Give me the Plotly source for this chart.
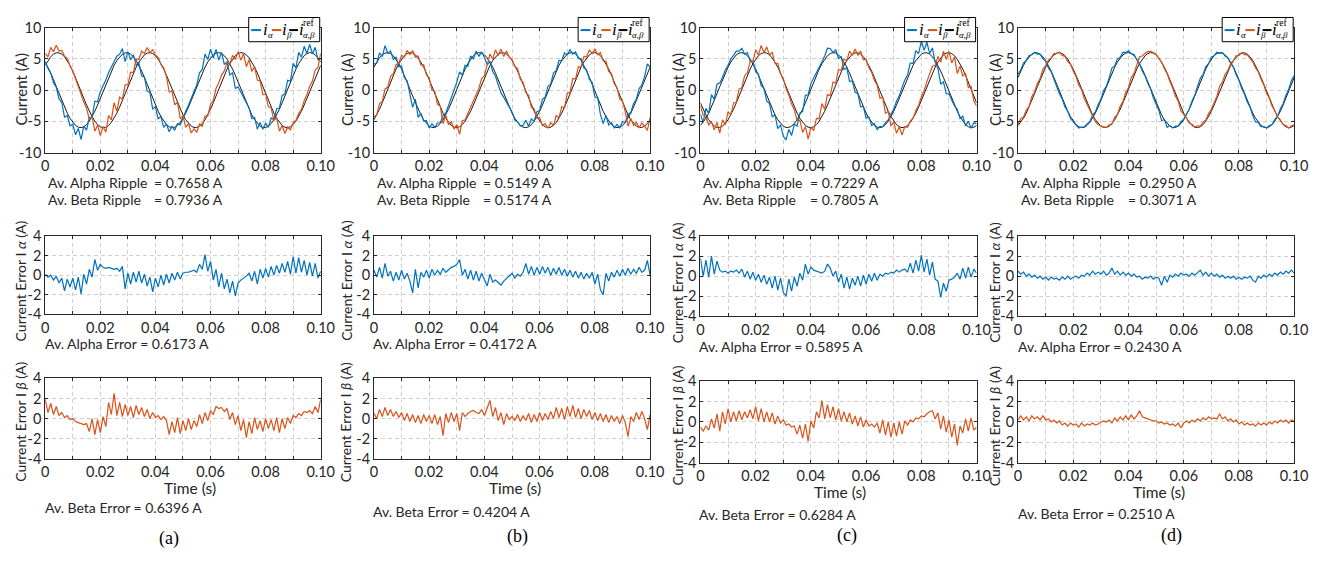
import plotly.graph_objects as go

W, H = 1329, 561          # target picture size
PAGE_MARGIN = 8           # default body margin of the page written by plotly
FW, FH = W - 2 * PAGE_MARGIN, H - 2 * PAGE_MARGIN

# ---------------- data ----------------
time_ms = list(range(101))               # sample instants, 1 ms apart
time_s = [m / 1000 for m in time_ms]

x_tick_vals = [0, 0.02, 0.04, 0.06, 0.08, 0.10]
x_tick_text = ["0", "0.02", "0.04", "0.06", "0.08", "0.10"]
x_minor_vals = [0.01, 0.03, 0.05, 0.07, 0.09]
cur_tick_vals = [-10, -5, 0, 5, 10]
cur_tick_text = ["-10", "-5", "0", "5", "10"]
err_tick_vals = [-4, -2, 0, 2, 4]
err_tick_text = ["-4", "-2", "0", "2", "4"]

panel_labels = ["(a)", "(b)", "(c)", "(d)"]
ripple_alpha = ["0.7658", "0.5149", "0.7229", "0.2950"]
ripple_beta = ["0.7936", "0.5174", "0.7805", "0.3071"]
error_alpha = ["0.6173", "0.4172", "0.5895", "0.2430"]
error_beta = ["0.6396", "0.4204", "0.6284", "0.2510"]

ref_alpha_a = [4.50, 3.68, 2.72, 1.67, 0.56, -0.56, -1.67, -2.72, -3.68, -4.50,
               -5.16, -5.65, -5.93, -6.00, -5.86, -5.51, -4.96, -4.24, -3.37, -2.38,
               -1.31, -0.19, 0.94, 2.03, 3.05, 3.97, 4.74, 5.35, 5.76, 5.97,
               5.97, 5.76, 5.35, 4.74, 3.97, 3.05, 2.03, 0.94, -0.19, -1.31,
               -2.38, -3.37, -4.24, -4.96, -5.51, -5.86, -6.00, -5.93, -5.65, -5.16,
               -4.50, -3.68, -2.72, -1.67, -0.56, 0.56, 1.67, 2.72, 3.68, 4.50,
               5.16, 5.65, 5.93, 6.00, 5.86, 5.51, 4.96, 4.24, 3.37, 2.38,
               1.31, 0.19, -0.94, -2.03, -3.05, -3.97, -4.74, -5.35, -5.76, -5.97,
               -5.97, -5.76, -5.35, -4.74, -3.97, -3.05, -2.03, -0.94, 0.19, 1.31,
               2.38, 3.37, 4.24, 4.96, 5.51, 5.86, 6.00, 5.93, 5.65, 5.16,
               4.50]
ref_beta_a = [3.97, 4.74, 5.35, 5.76, 5.97, 5.97, 5.76, 5.35, 4.74, 3.97,
              3.05, 2.03, 0.94, -0.19, -1.31, -2.38, -3.37, -4.24, -4.96, -5.51,
              -5.86, -6.00, -5.93, -5.65, -5.16, -4.50, -3.68, -2.72, -1.67, -0.56,
              0.56, 1.67, 2.72, 3.68, 4.50, 5.16, 5.65, 5.93, 6.00, 5.86,
              5.51, 4.96, 4.24, 3.37, 2.38, 1.31, 0.19, -0.94, -2.03, -3.05,
              -3.97, -4.74, -5.35, -5.76, -5.97, -5.97, -5.76, -5.35, -4.74, -3.97,
              -3.05, -2.03, -0.94, 0.19, 1.31, 2.38, 3.37, 4.24, 4.96, 5.51,
              5.86, 6.00, 5.93, 5.65, 5.16, 4.50, 3.68, 2.72, 1.67, 0.56,
              -0.56, -1.67, -2.72, -3.68, -4.50, -5.16, -5.65, -5.93, -6.00, -5.86,
              -5.51, -4.96, -4.24, -3.37, -2.38, -1.31, -0.19, 0.94, 2.03, 3.05,
              3.97]
ref_alpha_b = [3.68, 4.50, 5.16, 5.65, 5.93, 6.00, 5.86, 5.51, 4.96, 4.24,
               3.37, 2.38, 1.31, 0.19, -0.94, -2.03, -3.05, -3.97, -4.74, -5.35,
               -5.76, -5.97, -5.97, -5.76, -5.35, -4.74, -3.97, -3.05, -2.03, -0.94,
               0.19, 1.31, 2.38, 3.37, 4.24, 4.96, 5.51, 5.86, 6.00, 5.93,
               5.65, 5.16, 4.50, 3.68, 2.72, 1.67, 0.56, -0.56, -1.67, -2.72,
               -3.68, -4.50, -5.16, -5.65, -5.93, -6.00, -5.86, -5.51, -4.96, -4.24,
               -3.37, -2.38, -1.31, -0.19, 0.94, 2.03, 3.05, 3.97, 4.74, 5.35,
               5.76, 5.97, 5.97, 5.76, 5.35, 4.74, 3.97, 3.05, 2.03, 0.94,
               -0.19, -1.31, -2.38, -3.37, -4.24, -4.96, -5.51, -5.86, -6.00, -5.93,
               -5.65, -5.16, -4.50, -3.68, -2.72, -1.67, -0.56, 0.56, 1.67, 2.72,
               3.68]
ref_beta_b = [-4.74, -3.97, -3.05, -2.03, -0.94, 0.19, 1.31, 2.38, 3.37, 4.24,
              4.96, 5.51, 5.86, 6.00, 5.93, 5.65, 5.16, 4.50, 3.68, 2.72,
              1.67, 0.56, -0.56, -1.67, -2.72, -3.68, -4.50, -5.16, -5.65, -5.93,
              -6.00, -5.86, -5.51, -4.96, -4.24, -3.37, -2.38, -1.31, -0.19, 0.94,
              2.03, 3.05, 3.97, 4.74, 5.35, 5.76, 5.97, 5.97, 5.76, 5.35,
              4.74, 3.97, 3.05, 2.03, 0.94, -0.19, -1.31, -2.38, -3.37, -4.24,
              -4.96, -5.51, -5.86, -6.00, -5.93, -5.65, -5.16, -4.50, -3.68, -2.72,
              -1.67, -0.56, 0.56, 1.67, 2.72, 3.68, 4.50, 5.16, 5.65, 5.93,
              6.00, 5.86, 5.51, 4.96, 4.24, 3.37, 2.38, 1.31, 0.19, -0.94,
              -2.03, -3.05, -3.97, -4.74, -5.35, -5.76, -5.97, -5.97, -5.76, -5.35,
              -4.74]
ref_alpha_c = [-5.65, -5.16, -4.50, -3.68, -2.72, -1.67, -0.56, 0.56, 1.67, 2.72,
               3.68, 4.50, 5.16, 5.65, 5.93, 6.00, 5.86, 5.51, 4.96, 4.24,
               3.37, 2.38, 1.31, 0.19, -0.94, -2.03, -3.05, -3.97, -4.74, -5.35,
               -5.76, -5.97, -5.97, -5.76, -5.35, -4.74, -3.97, -3.05, -2.03, -0.94,
               0.19, 1.31, 2.38, 3.37, 4.24, 4.96, 5.51, 5.86, 6.00, 5.93,
               5.65, 5.16, 4.50, 3.68, 2.72, 1.67, 0.56, -0.56, -1.67, -2.72,
               -3.68, -4.50, -5.16, -5.65, -5.93, -6.00, -5.86, -5.51, -4.96, -4.24,
               -3.37, -2.38, -1.31, -0.19, 0.94, 2.03, 3.05, 3.97, 4.74, 5.35,
               5.76, 5.97, 5.97, 5.76, 5.35, 4.74, 3.97, 3.05, 2.03, 0.94,
               -0.19, -1.31, -2.38, -3.37, -4.24, -4.96, -5.51, -5.86, -6.00, -5.93,
               -5.65]
ref_beta_c = [-2.03, -3.05, -3.97, -4.74, -5.35, -5.76, -5.97, -5.97, -5.76, -5.35,
              -4.74, -3.97, -3.05, -2.03, -0.94, 0.19, 1.31, 2.38, 3.37, 4.24,
              4.96, 5.51, 5.86, 6.00, 5.93, 5.65, 5.16, 4.50, 3.68, 2.72,
              1.67, 0.56, -0.56, -1.67, -2.72, -3.68, -4.50, -5.16, -5.65, -5.93,
              -6.00, -5.86, -5.51, -4.96, -4.24, -3.37, -2.38, -1.31, -0.19, 0.94,
              2.03, 3.05, 3.97, 4.74, 5.35, 5.76, 5.97, 5.97, 5.76, 5.35,
              4.74, 3.97, 3.05, 2.03, 0.94, -0.19, -1.31, -2.38, -3.37, -4.24,
              -4.96, -5.51, -5.86, -6.00, -5.93, -5.65, -5.16, -4.50, -3.68, -2.72,
              -1.67, -0.56, 0.56, 1.67, 2.72, 3.68, 4.50, 5.16, 5.65, 5.93,
              6.00, 5.86, 5.51, 4.96, 4.24, 3.37, 2.38, 1.31, 0.19, -0.94,
              -2.03]
ref_alpha_d = [2.03, 3.05, 3.97, 4.74, 5.35, 5.76, 5.97, 5.97, 5.76, 5.35,
               4.74, 3.97, 3.05, 2.03, 0.94, -0.19, -1.31, -2.38, -3.37, -4.24,
               -4.96, -5.51, -5.86, -6.00, -5.93, -5.65, -5.16, -4.50, -3.68, -2.72,
               -1.67, -0.56, 0.56, 1.67, 2.72, 3.68, 4.50, 5.16, 5.65, 5.93,
               6.00, 5.86, 5.51, 4.96, 4.24, 3.37, 2.38, 1.31, 0.19, -0.94,
               -2.03, -3.05, -3.97, -4.74, -5.35, -5.76, -5.97, -5.97, -5.76, -5.35,
               -4.74, -3.97, -3.05, -2.03, -0.94, 0.19, 1.31, 2.38, 3.37, 4.24,
               4.96, 5.51, 5.86, 6.00, 5.93, 5.65, 5.16, 4.50, 3.68, 2.72,
               1.67, 0.56, -0.56, -1.67, -2.72, -3.68, -4.50, -5.16, -5.65, -5.93,
               -6.00, -5.86, -5.51, -4.96, -4.24, -3.37, -2.38, -1.31, -0.19, 0.94,
               2.03]
ref_beta_d = [-5.65, -5.16, -4.50, -3.68, -2.72, -1.67, -0.56, 0.56, 1.67, 2.72,
              3.68, 4.50, 5.16, 5.65, 5.93, 6.00, 5.86, 5.51, 4.96, 4.24,
              3.37, 2.38, 1.31, 0.19, -0.94, -2.03, -3.05, -3.97, -4.74, -5.35,
              -5.76, -5.97, -5.97, -5.76, -5.35, -4.74, -3.97, -3.05, -2.03, -0.94,
              0.19, 1.31, 2.38, 3.37, 4.24, 4.96, 5.51, 5.86, 6.00, 5.93,
              5.65, 5.16, 4.50, 3.68, 2.72, 1.67, 0.56, -0.56, -1.67, -2.72,
              -3.68, -4.50, -5.16, -5.65, -5.93, -6.00, -5.86, -5.51, -4.96, -4.24,
              -3.37, -2.38, -1.31, -0.19, 0.94, 2.03, 3.05, 3.97, 4.74, 5.35,
              5.76, 5.97, 5.97, 5.76, 5.35, 4.74, 3.97, 3.05, 2.03, 0.94,
              -0.19, -1.31, -2.38, -3.37, -4.24, -4.96, -5.51, -5.86, -6.00, -5.93,
              -5.65]

err_alpha_a = [0.1, -0.2, 0.0, -0.5, -0.1, -0.8, -0.3, -1.6, -0.4, -1.2,
               -0.3, -1.5, -0.2, -1.9, 0.1, -0.9, 0.6, -0.2, 1.6, 0.5,
               1.1, 0.8, 0.7, 0.8, 0.7, 0.6, 0.7, 0.4, 0.9, -1.4,
               0.2, -0.9, 0.3, -0.7, 0.4, -0.8, 0.1, -1.1, -0.2, -1.7,
               -0.3, -1.2, 0.0, -1.0, 0.1, -0.8, 0.2, -0.5, 0.3, -0.4,
               0.2, 0.3, 0.3, 0.4, 0.5, 0.3, 1.1, 0.6, 2.1, 0.4,
               1.4, -0.5, 0.6, -1.2, 0.2, -1.4, -0.4, -1.8, -0.6, -2.1,
               -0.8, -0.5, -0.3, -0.1, 0.2, -0.6, 0.4, -0.9, 0.6, -0.3,
               0.7, -0.2, 0.9, 0.0, 1.0, 0.2, 1.2, 0.3, 1.4, 0.1,
               1.9, 0.2, 1.8, 0.3, 1.5, 0.0, 1.3, -0.1, 1.2, -0.3,
               0.4]
err_beta_a = [1.9, 0.6, 1.5, 0.4, 1.2, 0.3, 0.6, 0.1, 0.3, -0.1,
              0.0, -0.3, -0.4, -0.5, -0.6, -0.5, -1.3, 0.0, -1.6, -0.1,
              -1.4, 0.2, -0.8, 1.6, 0.4, 2.5, 0.3, 1.6, 0.2, 1.4,
              0.3, 1.2, 0.1, 1.3, 0.4, 1.1, 0.2, 0.9, 0.0, 0.6,
              0.1, 0.3, -0.1, 0.2, -0.2, -1.6, -0.3, -1.4, 0.1, -1.5,
              -0.2, -1.2, 0.0, -1.1, -0.2, -0.8, 0.4, -0.5, 0.6, -0.2,
              0.8, 0.4, 1.2, 1.0, 1.1, 0.7, 1.0, -0.1, 0.6, -0.6,
              0.3, -1.2, -0.1, -1.9, -0.3, -1.5, 0.1, -1.1, -0.2, -1.3,
              0.0, -1.0, -0.1, -1.2, 0.1, -1.4, 0.0, -1.0, 0.1, -0.5,
              0.3, 0.1, 0.5, 0.3, 0.7, 0.6, 0.8, 0.5, 1.2, 0.6,
              1.9]
err_alpha_b = [0.5, -0.2, 0.8, -0.3, 1.2, -0.1, 0.4, -0.6, 0.3, -0.5,
               0.5, -0.4, 0.2, -0.6, -1.8, 0.6, -1.3, 0.3, -0.2, 0.5,
               -0.3, 0.6, 0.0, 0.5, 0.1, 0.7, 0.3, 0.6, 0.8, 0.9,
               1.1, 1.6, 0.0, 0.6, -0.4, 0.5, -0.5, 0.4, -0.6, 0.2,
               -0.4, -1.1, 0.1, -0.7, -0.5, -0.8, -1.0, -0.6, -0.3, -0.1,
               0.2, -0.3, 0.1, -0.1, 0.3, 1.2, 0.1, 0.9, 0.0, 0.8,
               0.1, 0.9, 0.2, 0.8, 0.0, 0.7, 0.1, 0.8, 0.0, 0.6,
               -0.1, 0.5, -0.2, 0.4, -0.3, 0.3, -0.4, 0.2, -0.3, 0.3,
               -0.9, 0.1, -1.5, -2.0, 0.2, -0.6, 0.3, -0.2, 0.5, -0.1,
               0.6, 0.0, 0.7, 0.1, 0.6, 0.2, 0.8, 0.3, 0.5, 1.5,
               0.0]
err_beta_b = [0.5, 0.0, 0.9, 0.2, 1.1, 0.3, 0.9, 0.2, 0.7, 0.1,
              0.6, -0.2, 0.5, -0.3, 0.4, -0.4, 0.3, -0.5, 0.4, -0.3,
              0.3, -0.5, 0.4, -0.6, 0.2, -1.7, 0.5, -0.4, 0.6, -0.3,
              0.5, -1.2, 0.6, 0.2, 0.5, 0.7, 0.8, 0.6, 0.5, 0.9,
              0.3, 1.0, 1.8, 0.2, 1.1, -0.2, 0.6, -0.6, 0.5, -0.1,
              0.2, -0.2, 0.4, -0.3, 0.3, -0.2, 0.5, -0.4, 0.4, -0.3,
              0.6, -0.2, 0.5, -0.1, 0.7, 0.0, 1.1, 0.1, 1.0, -0.1,
              1.2, 0.2, 1.3, 0.1, 1.0, 0.0, 0.9, 0.2, 0.8, -0.1,
              0.6, -0.2, 0.5, -0.3, 0.4, -0.4, 0.3, -0.3, 0.2, -0.5,
              0.3, -0.4, -1.8, 0.2, -0.3, 0.6, -0.1, 0.7, 0.0, -1.1,
              0.4]
err_alpha_c = [1.8, 0.0, 1.6, -0.1, 2.0, 0.2, 1.5, 0.6, 0.4, 0.5,
               0.3, 0.5, 0.4, 0.6, 0.3, 0.7, -0.1, 0.5, -0.3, 0.4,
               -0.4, 0.2, -0.6, 0.1, -0.8, -0.1, -1.2, 0.0, -1.4, -0.2,
               -1.6, -2.0, -0.3, -1.5, -0.1, -1.0, 0.3, -0.4, 1.2, 0.2,
               0.9, 0.6, 0.5, 0.4, 0.3, 0.5, 1.2, 0.8, 0.0, 0.5,
               -0.6, 0.2, -1.2, -0.1, -1.3, -0.2, -0.9, 0.0, -1.0, 0.1,
               -0.8, 0.2, -0.5, 0.3, -0.4, 0.2, 0.0, 0.3, 0.2, 0.4,
               0.3, 0.6, 0.4, 0.6, 0.7, 0.4, 1.3, 0.3, 1.6, 0.5,
               2.1, 0.4, 1.7, 0.1, 1.4, -0.3, -0.5, -2.1, -0.7, -1.5,
               -0.4, -0.3, -0.1, 0.3, -0.3, 0.8, -0.2, 0.9, -0.1, 0.7,
               0.3]
err_beta_c = [-0.5, -0.9, -0.4, -0.8, 0.3, -0.6, 0.8, -0.9, 1.0, -0.2,
              1.3, 0.0, 1.0, 0.1, 1.1, 0.2, 1.0, 0.4, 1.2, 0.3,
              1.5, 0.1, 1.3, 0.0, 1.0, 0.0, 0.9, -0.2, 0.6, -0.1,
              0.2, -0.3, -0.2, -0.5, -0.4, -1.2, -0.3, -1.6, -0.2, -1.9,
              0.1, -0.6, 1.0, 0.4, 2.1, 0.3, 1.7, 0.4, 1.5, 0.2,
              1.3, 0.1, 1.0, 0.0, 0.9, -0.2, 0.6, -0.4, 0.5, -0.5,
              0.2, -0.4, -0.2, -0.5, -0.1, -1.1, 0.2, -1.3, 0.0, -1.5,
              -0.1, -1.4, 0.0, -1.2, 0.1, -0.3, 0.2, 0.0, 0.4, 0.3,
              0.6, 0.5, 0.8, 1.0, 1.1, 0.3, 0.9, -0.7, 0.6, -1.0,
              0.2, -1.5, -0.2, -2.3, -0.4, -1.1, 0.3, -0.9, 0.4, -0.8,
              -0.5]
err_alpha_d = [0.5, 0.2, 0.4, 0.0, 0.2, -0.1, 0.1, -0.2, 0.0, -0.3,
               -0.1, -0.4, -0.1, -0.3, -0.2, -0.4, -0.1, -0.3, 0.0, -0.3,
               -0.1, 0.0, -0.2, 0.1, 0.0, 0.3, 0.1, 0.5, 0.2, 0.4,
               0.2, 0.5, 0.1, 0.3, 0.8, 0.2, 0.5, 0.1, 0.4, 0.1,
               0.3, 0.0, 0.2, -0.1, 0.0, -0.3, -0.1, -0.2, 0.0, -0.3,
               -0.1, -0.2, -0.9, 0.0, -0.6, 0.1, -0.1, 0.2, 0.0, 0.3,
               0.1, 0.2, 0.0, 0.3, 0.1, 0.4, 0.6, 0.1, 0.4, 0.0,
               0.3, 0.0, 0.2, -0.1, 0.1, -0.2, 0.0, -0.2, 0.0, -0.3,
               -0.1, -0.3, -0.1, -0.2, 0.0, -0.4, -0.6, 0.0, -0.2, 0.1,
               -0.1, 0.2, 0.0, 0.3, 0.1, 0.4, 0.2, 0.5, 0.3, 0.6,
               0.3]
err_beta_d = [0.2, 0.6, 0.2, 0.5, 0.1, 0.6, 0.3, 0.5, 0.2, 0.6,
              0.2, 0.3, 0.0, 0.2, -0.1, 0.1, -0.3, -0.1, -0.4, -0.1,
              -0.3, -0.2, -0.5, -0.1, -0.4, -0.2, -0.3, -0.1, -0.3, -0.2,
              0.0, 0.1, 0.0, 0.2, -0.1, 0.4, 0.1, 0.5, 0.2, 0.6,
              0.2, 0.7, 0.3, 0.6, 1.1, 0.5, 0.4, 0.3, 0.2, 0.1,
              0.1, -0.1, 0.0, -0.2, -0.1, -0.3, -0.2, -0.4, -0.1, -0.6,
              -0.1, 0.1, -0.1, 0.2, 0.0, 0.3, 0.1, 0.4, 0.2, 0.5,
              0.3, 0.4, 0.3, 0.8, 0.3, 0.5, 0.1, 0.3, 0.0, 0.2,
              -0.2, 0.0, -0.3, -0.1, -0.3, -0.2, -0.4, -0.1, -0.3, -0.1,
              -0.3, 0.0, -0.2, 0.1, -0.1, 0.2, 0.0, 0.2, -0.1, 0.2,
              0.1]

ref_alpha = [ref_alpha_a, ref_alpha_b, ref_alpha_c, ref_alpha_d]
ref_beta = [ref_beta_a, ref_beta_b, ref_beta_c, ref_beta_d]
err_alpha = [err_alpha_a, err_alpha_b, err_alpha_c, err_alpha_d]
err_beta = [err_beta_a, err_beta_b, err_beta_c, err_beta_d]

# ---------------- styling / layout geometry (page pixels) ----------------
BLUE = "#0072BD"
ORANGE = "#D95319"
REF = "#1a1a1a"
AX = "#262626"
GRID = "#cfcfcf"
FONT = "Lato"
SERIF = "Liberation Serif"

col_x = [(41.7, 321), (375, 655), (706, 986), (1028, 1308)]
row_y = [[(19, 148), (234, 315), (381, 464)],
         [(19, 148), (234, 315), (381, 464)],
         [(19, 148), (234, 317), (384, 468)],
         [(19, 148), (234, 317), (384, 468)]]

fig = go.Figure()


def px_x(x):
    return (x - PAGE_MARGIN) / FW


def px_y(y):
    return 1 - (y - PAGE_MARGIN) / FH


def ann(x, y, text, size=14.5, xanchor="left", yanchor="middle", family=FONT,
        angle=0, color=AX):
    fig.add_annotation(x=px_x(x), y=px_y(y), xref="paper", yref="paper",
                       text=text, showarrow=False, xanchor=xanchor,
                       yanchor=yanchor, textangle=angle, borderpad=0,
                       font=dict(family=family, size=size, color=color))


layout_axes = {}
for ci in range(4):
    for ri in range(3):
        n = ci * 3 + ri + 1
        xname = "x" if n == 1 else f"x{n}"
        yname = "y" if n == 1 else f"y{n}"
        (x0, x1) = col_x[ci]
        (y0, y1) = row_y[ci][ri]
        xdom = [px_x(x0), px_x(x1)]
        ydom = [px_y(y1), px_y(y0)]
        common = dict(ticks="inside", ticklen=3, tickwidth=1, tickcolor=AX,
                      showline=True, linecolor=AX, linewidth=1, mirror="ticks",
                      showgrid=True, gridcolor=GRID, griddash="4px,3px",
                      gridwidth=1, zeroline=False, fixedrange=True,
                      tickfont=dict(family=FONT, size=14.5, color=AX))
        layout_axes["xaxis" if n == 1 else f"xaxis{n}"] = dict(
            domain=xdom, anchor=yname, range=[0, 0.1], tickmode="array",
            tickvals=x_tick_vals, ticktext=x_tick_text,
            minor=dict(tickmode="array", tickvals=x_minor_vals, ticks="inside",
                       ticklen=3, tickcolor=AX, showgrid=True, gridcolor=GRID,
                       griddash="4px,3px", gridwidth=1),
            **common)
        if ri == 0:
            yr, tv, tt = [-10, 10], cur_tick_vals, cur_tick_text
        else:
            yr, tv, tt = [-4, 4], err_tick_vals, err_tick_text
        layout_axes["yaxis" if n == 1 else f"yaxis{n}"] = dict(
            domain=ydom, anchor=xname, range=yr, tickmode="array",
            tickvals=tv, ticktext=tt, **common)

        if ri == 0:
            meas_a = [r + e for r, e in zip(ref_alpha[ci], err_alpha[ci])]
            meas_b = [r + e for r, e in zip(ref_beta[ci], err_beta[ci])]
            fig.add_trace(go.Scatter(x=time_s, y=ref_alpha[ci], mode="lines",
                                     line=dict(color=REF, width=1),
                                     xaxis=xname, yaxis=yname))
            fig.add_trace(go.Scatter(x=time_s, y=ref_beta[ci], mode="lines",
                                     line=dict(color=REF, width=1),
                                     xaxis=xname, yaxis=yname))
            fig.add_trace(go.Scatter(x=time_s, y=meas_a, mode="lines",
                                     line=dict(color=BLUE, width=1.2),
                                     xaxis=xname, yaxis=yname))
            fig.add_trace(go.Scatter(x=time_s, y=meas_b, mode="lines",
                                     line=dict(color=ORANGE, width=1.2),
                                     xaxis=xname, yaxis=yname))
        elif ri == 1:
            fig.add_trace(go.Scatter(x=time_s, y=err_alpha[ci], mode="lines",
                                     line=dict(color=BLUE, width=1.2),
                                     xaxis=xname, yaxis=yname))
        else:
            fig.add_trace(go.Scatter(x=time_s, y=err_beta[ci], mode="lines",
                                     line=dict(color=ORANGE, width=1.2),
                                     xaxis=xname, yaxis=yname))

# ---------------- texts ----------------
ripple_x = [43.3, 376.7, 707.7, 1030]
err_a_pos = [(40, 345), (373, 345), (704, 348), (1026.7, 348)]
err_b_pos = [(40, 514), (373.3, 518), (704, 521.7), (1026.7, 520.7)]
time_pos = [(188, 494), (518, 494), (848, 498.5), (1171, 498.5)]
label_pos = [(167, 546), (521, 544), (855, 543), (1184, 543)]
ytitle_x = [17, 347, 683, 1004]
ytitle_y = [[83, 280, 426], [83, 280, 426], [83, 282, 430], [83, 282, 430]]

for ci in range(4):
    xs = ripple_x[ci]
    ann(xs, 178.5, "Av. Alpha Ripple", size=14)
    ann(xs + 108, 178.5, f"= {ripple_alpha[ci]} A", size=14)
    ann(xs, 196.5, "Av. Beta Ripple", size=14)
    ann(xs + 108, 196.5, f"= {ripple_beta[ci]} A", size=14)
    ann(err_a_pos[ci][0], err_a_pos[ci][1], f"Av. Alpha Error = {error_alpha[ci]} A", size=14)
    ann(err_b_pos[ci][0], err_b_pos[ci][1], f"Av. Beta Error = {error_beta[ci]} A", size=14)
    ann(time_pos[ci][0], time_pos[ci][1], "Time (s)", size=15.5, xanchor="center")
    ann(label_pos[ci][0], label_pos[ci][1], panel_labels[ci], size=18,
        xanchor="center", family=SERIF, color="black")
    ann(ytitle_x[ci], ytitle_y[ci][0], "Current (A)", size=15, xanchor="center", angle=-90)
    ann(ytitle_x[ci], ytitle_y[ci][1], "Current Error I <i>α</i> (A)", size=14,
        xanchor="center", angle=-90)
    ann(ytitle_x[ci], ytitle_y[ci][2], "Current Error I <i>β</i> (A)", size=14,
        xanchor="center", angle=-90)

# ---------------- custom legends ----------------
legend_left = [248, 582, 913, 1235]
for ci in range(4):
    L, T, B = legend_left[ci], 8.5, 33.5
    fig.add_shape(type="rect", xref="paper", yref="paper",
                  x0=px_x(L), x1=px_x(L + 72), y0=px_y(B), y1=px_y(T),
                  line=dict(color="black", width=1), fillcolor="white",
                  layer="above")
    ym = T + 13
    for (a, b, c) in [(2.5, 12.5, BLUE), (23.5, 33, ORANGE), (41, 50, "black")]:
        fig.add_shape(type="line", xref="paper", yref="paper",
                      x0=px_x(L + a), x1=px_x(L + b), y0=px_y(ym), y1=px_y(ym),
                      line=dict(color=c, width=2), layer="above")
    for xi in (13.5, 33, 50):
        ann(L + xi, ym - 1, "<i>i</i>", size=17, family=SERIF, color="black")
    ann(L + 18.5, ym + 5, "<i>α</i>", size=9, family=SERIF, color="black")
    ann(L + 37, ym + 5, "<i>β</i>", size=9, family=SERIF, color="black")
    ann(L + 54, ym - 7, "ref", size=9.5, family=SERIF, color="black")
    ann(L + 54, ym + 5, "<i>α,β</i>", size=9, family=SERIF, color="black")

fig.update_layout(width=FW, height=FH, margin=dict(l=0, r=0, t=0, b=0),
                  paper_bgcolor="white", plot_bgcolor="white",
                  showlegend=False, **layout_axes)

fig.write_html("out.html", config={"displayModeBar": False})
